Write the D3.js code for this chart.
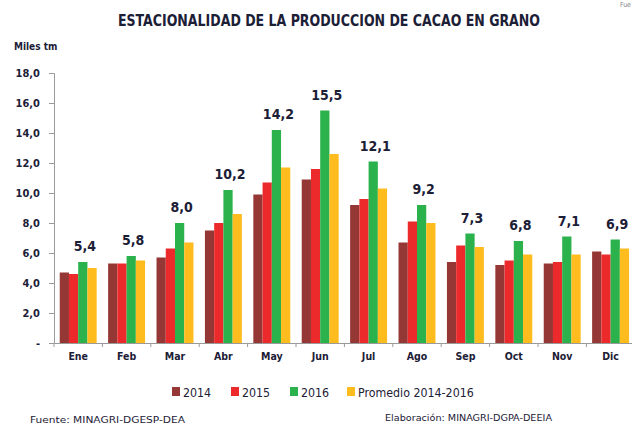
<!DOCTYPE html>
<head>
  <meta charset="utf-8">
  <script src="https://d3js.org/d3.v7.min.js"></script>
  <style>
    body { margin:0; background:#fff; }
    svg { display:block; }
  </style>
</head>
<body>
  <svg id="chart" width="632" height="428"></svg>
  <script>
    // months and series (miles tm)
    const months = ["Ene","Feb","Mar","Abr","May","Jun","Jul","Ago","Sep","Oct","Nov","Dic"];
    const s2014 = [4.7, 5.3, 5.7, 7.5, 9.9, 10.9, 9.2, 6.7, 5.4, 5.2, 5.3, 6.1];
    const s2015 = [4.6, 5.3, 6.3, 8.0, 10.7, 11.6, 9.6, 8.1, 6.5, 5.5, 5.4, 5.9];
    const s2016 = [5.4, 5.8, 8.0, 10.2, 14.2, 15.5, 12.1, 9.2, 7.3, 6.8, 7.1, 6.9];
    const promedio = [5.0, 5.5, 6.7, 8.6, 11.7, 12.6, 10.3, 8.0, 6.4, 5.9, 5.9, 6.3];
    const seriesNames = ["2014", "2015", "2016", "Promedio 2014-2016"];
    const yTicks = [0, 2, 4, 6, 8, 10, 12, 14, 16, 18];

    const seriesData = [s2014, s2015, s2016, promedio];
    const colors = ["#953735", "#ec2a2c", "#2bb24c", "#ffbc1f"];
    const ink = "#1c2036";
    const font = "'DejaVu Sans Condensed', 'Liberation Sans Narrow', sans-serif";

    const svg = d3.select("#chart").style("font-family", font);

    const x = d3.scaleBand().domain(months).range([54, 54 + 12 * 48.4]).padding(0);
    const xs = d3.scaleBand().domain(d3.range(4)).range([0, x.bandwidth()])
      .paddingInner(0).paddingOuter(0.62);
    const y = d3.scaleLinear().domain([0, 18]).range([343, 73]);

    // title
    svg.append("text")
      .attr("x", 329).attr("y", 26)
      .attr("text-anchor", "middle")
      .attr("font-size", 15).attr("font-weight", "bold")
      .attr("fill", ink)
      .attr("textLength", 422).attr("lengthAdjust", "spacingAndGlyphs")
      .text("ESTACIONALIDAD DE LA PRODUCCION DE CACAO EN GRANO");

    // partial header text seen at the top right corner
    svg.append("text")
      .attr("x", 631).attr("y", 7)
      .attr("text-anchor", "end")
      .attr("font-size", 7).attr("fill", "#888")
      .text("Fue");

    svg.append("text")
      .attr("x", 14).attr("y", 50)
      .attr("font-size", 10).attr("font-weight", "bold")
      .attr("fill", ink)
      .text("Miles tm");

    // y axis
    const yAxis = svg.append("g")
      .attr("transform", "translate(54,0)")
      .call(d3.axisLeft(y).tickValues(yTicks).tickSize(5).tickPadding(9)
        .tickFormat(d => d === 0 ? "-" : d.toFixed(1).replace(".", ",")));
    yAxis.select(".domain").attr("stroke", "#9a9a9a");
    yAxis.selectAll(".tick line").attr("stroke", "#9a9a9a");
    yAxis.selectAll("text")
      .attr("font-size", 11).attr("font-weight", "bold")
      .attr("fill", ink).style("font-family", font);

    // bars
    const groups = svg.append("g").selectAll("g")
      .data(months)
      .join("g")
      .attr("transform", d => `translate(${x(d)},0)`);

    groups.selectAll("rect")
      .data((m, i) => seriesData.map((s, k) => ({ k, v: s[i] })))
      .join("rect")
      .attr("x", d => xs(d.k))
      .attr("width", xs.bandwidth())
      .attr("y", d => y(d.v))
      .attr("height", d => y(0) - y(d.v))
      .attr("fill", d => colors[d.k]);

    // labels above 2016 bars
    groups.append("text")
      .attr("x", xs(2) + xs.bandwidth() / 2 + 2)
      .attr("y", (m, i) => y(s2016[i]) - 11)
      .attr("text-anchor", "middle")
      .attr("font-size", 14).attr("font-weight", "bold")
      .attr("fill", ink)
      .text((m, i) => s2016[i].toFixed(1).replace(".", ","));

    // x axis
    const xAxis = svg.append("g")
      .attr("transform", `translate(0,${y(0)})`)
      .call(d3.axisBottom(x).tickSize(0).tickPadding(10));
    xAxis.select(".domain").attr("stroke", "#9a9a9a");
    xAxis.selectAll("text")
      .attr("font-size", 10.5).attr("font-weight", "bold")
      .attr("fill", ink).style("font-family", font);
    xAxis.selectAll(".sep")
      .data(months.map(m => x(m)).concat([x.range()[1]]))
      .join("line")
      .attr("class", "sep")
      .attr("x1", d => d).attr("x2", d => d)
      .attr("y1", 0).attr("y2", 4)
      .attr("stroke", "#9a9a9a");

    // legend
    const legendX = [172, 231, 290, 347];
    const legend = svg.append("g").selectAll("g")
      .data(seriesNames)
      .join("g")
      .attr("transform", (d, i) => `translate(${legendX[i]},387)`);
    legend.append("rect")
      .attr("width", 8).attr("height", 9)
      .attr("fill", (d, i) => colors[i]);
    legend.append("text")
      .attr("x", 11).attr("y", 9.5)
      .attr("font-size", 12.3)
      .attr("fill", ink)
      .text(d => d);

    // footer
    svg.append("text")
      .attr("x", 30).attr("y", 423)
      .attr("font-size", 9).attr("fill", ink)
      .attr("textLength", 155).attr("lengthAdjust", "spacingAndGlyphs")
      .text("Fuente: MINAGRI-DGESP-DEA");
    svg.append("text")
      .attr("x", 385).attr("y", 421)
      .attr("font-size", 9).attr("fill", ink)
      .attr("textLength", 167).attr("lengthAdjust", "spacingAndGlyphs")
      .text("Elaboración: MINAGRI-DGPA-DEEIA");
  </script>
</body>
